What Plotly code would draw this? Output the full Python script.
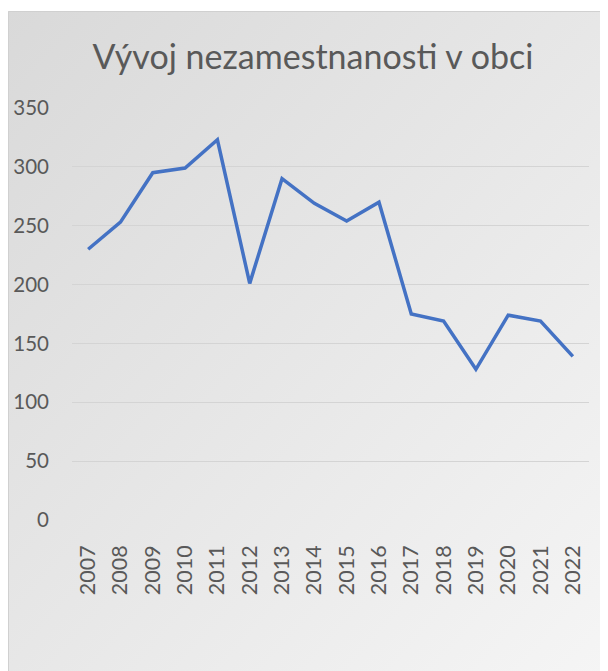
import base64
import plotly.graph_objects as go

years = [str(y) for y in range(2007, 2023)]
values = [230, 253, 295, 299, 323, 201, 290, 269, 254, 270, 175, 169, 128, 174, 169, 139]
y_ticks = [0, 50, 100, 150, 200, 250, 300, 350]
title_text = "Vývoj nezamestnanosti v obci"

# page body has an 8px margin, so figure coords = screen coords - 8
W, H = 600, 663
L, R, T, B = 64, 581, 100, 512
pw, ph = R - L, B - T

svg = ('<svg xmlns="http://www.w3.org/2000/svg" width="600" height="660" preserveAspectRatio="none">'
       '<defs><linearGradient id="g" x1="0" y1="0" x2="1" y2="1">'
       '<stop offset="0" stop-color="#d9d9d9"/><stop offset="1" stop-color="#f5f5f5"/>'
       '</linearGradient></defs><rect width="600" height="660" fill="url(#g)"/></svg>')
src = "data:image/svg+xml;base64," + base64.b64encode(svg.encode()).decode()

bx0, by0 = 0, 3
fig = go.Figure()
fig.add_trace(go.Scatter(x=years, y=values, mode="lines",
                         line=dict(color="#4472c4", width=3.5), hoverinfo="x+y"))

fig.add_layout_image(dict(source=src, xref="paper", yref="paper",
                          x=(bx0 - L) / pw, y=(B - by0) / ph,
                          sizex=(W - bx0) / pw, sizey=(H - by0) / ph,
                          xanchor="left", yanchor="top", sizing="stretch", layer="below"))
fig.add_shape(type="rect", xref="paper", yref="paper",
              x0=(bx0 + 0.5 - L) / pw, x1=(W + 5 - L) / pw, y0=(B - H - 5) / ph, y1=(B - by0 - 0.5) / ph,
              line=dict(color="#d0d0d0", width=1), fillcolor="rgba(0,0,0,0)", layer="below")

fig.update_layout(
    width=W, height=H,
    margin=dict(l=L, r=W - R, t=T, b=H - B, autoexpand=False),
    paper_bgcolor="white", plot_bgcolor="rgba(0,0,0,0)",
    showlegend=False,
    font=dict(family="Lato, 'Open Sans', sans-serif", color="#595959"),
    title=dict(text=title_text, x=305 / W, xref="container", xanchor="center",
               y=1 - 49 / H, yanchor="middle", yref="container",
               font=dict(size=34, color="#595959")),
    xaxis=dict(type="category", tickangle=-90, tickfont=dict(size=21.5),
               range=[-0.5, len(years) - 0.5], automargin=False,
               showgrid=False, showline=False, ticks="", ticklen=0,
               ticklabelstandoff=20),
    yaxis=dict(range=[0, 350], tickvals=y_ticks, tickfont=dict(size=20.5),
               automargin=False,
               gridcolor="#d4d4d4", gridwidth=1.2, zeroline=False, showline=False,
               ticks="", ticklabelstandoff=22),
)
fig.write_html("out.html",
               post_script="document.documentElement.style.overflow='hidden';document.body.style.overflow='hidden';")
